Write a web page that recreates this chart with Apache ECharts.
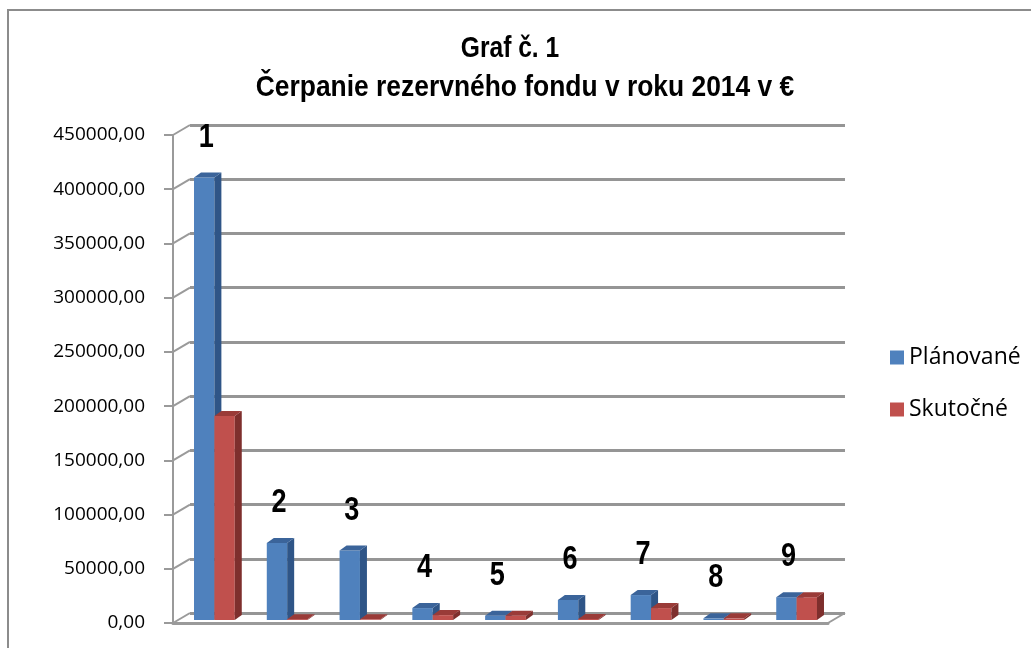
<!DOCTYPE html>
<html>
<head>
<meta charset="utf-8">
<script src="https://cdn.jsdelivr.net/npm/echarts@6/dist/echarts.min.js"></script>
<style>
html,body{margin:0;padding:0;background:#fff;}
#chart{width:1031px;height:648px;}
</style>
</head>
<body>
<div id="chart"></div>
<script>
// ---- data ----
var categories = ['1','2','3','4','5','6','7','8','9'];
var barLabels = ['1','2','3','4','5','6','7','8','9'];
var planned = [408000, 71000, 64000, 11000, 4000, 18500, 23000, 1500, 21000];
var actual  = [188000, 800, 600, 4500, 4000, 1000, 11000, 1500, 21000];
var yTicks = [0, 50000, 100000, 150000, 200000, 250000, 300000, 350000, 400000, 450000];
var seriesNames = ['Plánované', 'Skutočné'];
var titleLine1 = 'Graf č. 1';
var titleLine2 = 'Čerpanie rezervného fondu v roku 2014 v €';

var colors = [
  {front:'#4F81BD', side:'#2F5587', top:'#3B649A'},
  {front:'#C0504D', side:'#7E2F2D', top:'#9A3B38'}
];
var DX = 7, DY = 5;
var titleFont = {fontFamily:'Liberation Sans', fontWeight:'bold', fontSize:30, fill:'#000'};

function barRenderer(sIdx){
  return function(params, api){
    var cat = api.value(0), val = api.value(1);
    var base = api.coord([cat, 0]);
    var top = api.coord([cat, val]);
    var band = api.size([1, 0])[0];
    var w = band * 0.28;
    var x0 = sIdx === 0 ? base[0] - w : base[0];
    var yb = base[1], yt = top[1];
    var c = colors[sIdx];
    var children = [
      {type:'rect', shape:{x:x0, y:yt, width:w, height:yb-yt}, style:{fill:c.front}},
      {type:'polygon', shape:{points:[[x0+w,yt],[x0+w+DX,yt-DY],[x0+w+DX,yb-DY],[x0+w,yb]]}, style:{fill:c.side}},
      {type:'polygon', shape:{points:[[x0,yt],[x0+DX,yt-DY],[x0+w+DX,yt-DY],[x0+w,yt]]}, style:{fill:c.top}}
    ];
    if (sIdx === 0) {
      children.push({type:'text', x: base[0] - w*0.4, y: yt - 40, scaleX:0.82, style:{
        text: barLabels[params.dataIndex],
        align:'center', verticalAlign:'middle',
        fontFamily:'Liberation Sans', fontWeight:'bold', fontSize:33, fill:'#000'
      }});
    }
    return {type:'group', children: children};
  };
}

function diagRenderer(params, api){
  var v = api.value(1);
  var p = api.coord([0, v]);
  var cs = params.coordSys;
  var x = cs.x;
  var children = [
    {type:'line', shape:{x1:x, y1:p[1], x2:x+17, y2:p[1]-10}, style:{stroke:'#9a9a9a', lineWidth:2}}
  ];
  if (v === 0) {
    children.push({type:'line', shape:{x1:x+cs.width, y1:p[1], x2:x+cs.width+17, y2:p[1]-10}, style:{stroke:'#9a9a9a', lineWidth:2}});
  }
  return {type:'group', children: children};
}

var chart = echarts.init(document.getElementById('chart'), null, {renderer:'canvas'});

var gridW = 655, gridH = 488;
var option = {
  backgroundColor:'#fff',
  animation:false,
  graphic:[
    {type:'rect', shape:{x:8, y:10, width:1200, height:1000}, style:{fill:'none', stroke:'#8c8c8c', lineWidth:2}, z:-10},
    {type:'text', x:510, y:49, scaleX:0.82, style:Object.assign({text:titleLine1, align:'center', verticalAlign:'middle'}, titleFont)},
    {type:'text', x:525, y:88, scaleX:0.88, style:Object.assign({text:titleLine2, align:'center', verticalAlign:'middle'}, titleFont)}
  ],
  legend:{
    orient:'vertical', left:885, top:341,
    icon:'rect', itemWidth:14, itemHeight:14, itemGap:29,
    data: seriesNames,
    textStyle:{fontFamily:'Open Sans', fontSize:23, lineHeight:22, color:'#000'}
  },
  grid:[
    {left:173, top:135, width:gridW, height:gridH},   // front axis
    {left:178, top:132, width:gridW, height:gridH},   // bars
    {left:190, top:125, width:gridW, height:gridH}    // back wall
  ],
  xAxis:[
    {type:'category', gridIndex:0, data:categories, axisLine:{show:true, lineStyle:{color:'#9a9a9a', width:3}}, axisTick:{show:false}, axisLabel:{show:false}},
    {type:'category', gridIndex:1, data:categories, show:false},
    {type:'category', gridIndex:2, data:categories, show:false}
  ],
  yAxis:[
    {type:'value', gridIndex:0, min:0, max:450000, interval:50000,
     axisLine:{show:true, lineStyle:{color:'#9a9a9a', width:2}},
     axisTick:{show:true, length:9, lineStyle:{color:'#9a9a9a', width:2}},
     splitLine:{show:false},
     axisLabel:{margin:28, fontFamily:'Open Sans', fontSize:19, color:'#000', formatter:function(v){return v + ',00';}}},
    {type:'value', gridIndex:1, min:0, max:450000, interval:50000, show:false, splitLine:{show:false}},
    {type:'value', gridIndex:2, min:0, max:450000, interval:50000,
     axisLine:{show:false}, axisTick:{show:false}, axisLabel:{show:false},
     splitLine:{show:true, lineStyle:{color:'#959595', width:3}}}
  ],
  series:[
    {type:'custom', name:'diag', xAxisIndex:0, yAxisIndex:0, silent:true, renderItem:diagRenderer,
     data: yTicks.map(function(v){return [0, v];}), z:1},
    {type:'custom', name:seriesNames[0], xAxisIndex:1, yAxisIndex:1, renderItem:barRenderer(0),
     itemStyle:{color:colors[0].front}, encode:{x:0, y:1},
     data: planned.map(function(v,i){return [i, v];}), z:3},
    {type:'custom', name:seriesNames[1], xAxisIndex:1, yAxisIndex:1, renderItem:barRenderer(1),
     itemStyle:{color:colors[1].front}, encode:{x:0, y:1},
     data: actual.map(function(v,i){return [i, v];}), z:4}
  ]
};
chart.setOption(option);
</script>
</body>
</html>
